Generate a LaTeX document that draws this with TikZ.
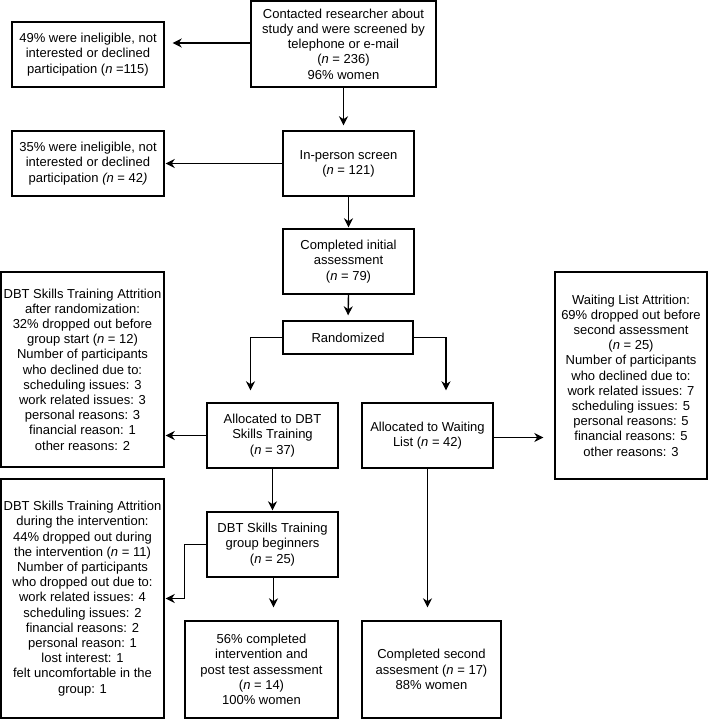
\documentclass[tikz,border=0pt]{standalone}
\usepackage{fontspec}
\setmainfont{Liberation Sans}
\usetikzlibrary{arrows.meta,calc}
\begin{document}
\begin{tikzpicture}[x=1bp,y=-1bp,
  box/.style={draw, line width=1.4bp, align=center, inner sep=0pt, font=\fontsize{13bp}{15.2bp}\selectfont},
  arr/.style={line width=1.4bp, -{Stealth[length=9bp,width=9bp]}}]
\useasboundingbox (0,0) rectangle (709,720);
% top chain
\node[box, minimum width=185bp, minimum height=86bp] (A) at (343.5,44)
  {Contacted researcher about\\study and were screened by\\telephone or e-mail\\(\textit{n} = 236)\\96\% women};
\node[box, minimum width=152bp, minimum height=65bp] (L1) at (88,54.5)
  {49\% were ineligible, not\\interested or declined\\participation (\textit{n} =115)};
\node[box, minimum width=131bp, minimum height=65bp] (B) at (348.5,163.5)
  {In-person screen\\(\textit{n} = 121)};
\node[box, minimum width=152bp, minimum height=65bp] (L2) at (88,163.5)
  {35\% were ineligible, not\\interested or declined\\participation \textit{(n} = 42\textit{)}};
\node[box, minimum width=131bp, minimum height=65bp] (C) at (348.5,261.5)
  {Completed initial\\assessment\\(\textit{n} = 79)};
\node[box, minimum width=130bp, minimum height=33bp] (R) at (348,337.5)
  {Randomized};
% arms
\node[box, minimum width=131bp, minimum height=65bp] (D) at (272.5,435.5)
  {Allocated to DBT\\Skills Training\\(\textit{n} = 37)};
\node[box, minimum width=131bp, minimum height=65bp] (W) at (427.5,435.5)
  {Allocated to Waiting\\List (\textit{n} = 42)};
\node[box, minimum width=163bp, minimum height=195bp] (LA) at (82.5,369.5)
  {DBT Skills Training Attrition\\after randomization:\\32\% dropped out before\\group start (\textit{n} = 12)\\Number of participants\\who declined due to:\\scheduling issues: 3\\work related issues: 3\\personal reasons: 3\\financial reason: 1\\other reasons: 2};
\node[box, minimum width=152bp, minimum height=207bp] (WA) at (631,375.5)
  {Waiting List Attrition:\\69\% dropped out before\\second assessment\\(\textit{n} = 25)\\Number of participants\\who declined due to:\\work related issues: 7\\scheduling issues: 5\\personal reasons: 5\\financial reasons: 5\\other reasons: 3};
\node[box, minimum width=131bp, minimum height=65bp] (D2) at (272.5,544.5)
  {DBT Skills Training\\group beginners\\(\textit{n} = 25)};
\node[box, minimum width=163bp, minimum height=239bp] (LB) at (82.5,598.5)
  {DBT Skills Training Attrition\\during the intervention:\\44\% dropped out during\\the intervention (\textit{n} = 11)\\Number of participants\\who dropped out due to:\\work related issues: 4\\scheduling issues: 2\\financial reasons: 2\\personal reason: 1\\lost interest: 1\\felt uncomfortable in the\\group: 1};
\node[box, minimum width=153bp, minimum height=97bp] (E) at (261.5,669.5)
  {56\% completed\\intervention and\\post test assessment\\(\textit{n} = 14)\\100\% women};
\node[box, minimum width=139bp, minimum height=97bp] (F) at (431.5,669.5)
  {Completed second\\assesment (\textit{n} = 17)\\88\% women};
% connectors
\draw[arr, shorten >=8bp] ([yshift=1bp]A.west) -- ([yshift=1bp]A.west -| L1.east);
\draw[arr, shorten >=5bp] (A.south) -- (A.south |- B.north);
\draw[arr, shorten >=1bp] (B.west) -- (L2.east);
\draw[arr, shorten >=1bp] (B.south) -- (C.north);
\draw[arr, shorten >=5bp] (C.south) -- (R.north);
\draw[arr, shorten >=12bp] (R.west) -| ([xshift=-22bp]D.north);
\draw[arr, shorten >=12bp] (R.east) -| ([xshift=18.5bp]W.north);
\draw[arr, shorten >=1bp] (D.west) -- (D.west -| LA.east);
\draw[arr, shorten >=11bp] ([yshift=-2bp]W.east) -- ([yshift=-2bp]W.east -| WA.west);
\draw[arr, shorten >=1bp] (D.south) -- (D2.north);
\draw[arr, shorten >=1bp] (D2.west) -- ++(-22,0) |- (LB.east);
\draw[arr, shorten >=13bp] ([xshift=1bp]D2.south) -- ([xshift=1bp]D2.south |- E.north);
\draw[arr, shorten >=13bp] (W.south) -- (W.south |- F.north);
\end{tikzpicture}
\end{document}
